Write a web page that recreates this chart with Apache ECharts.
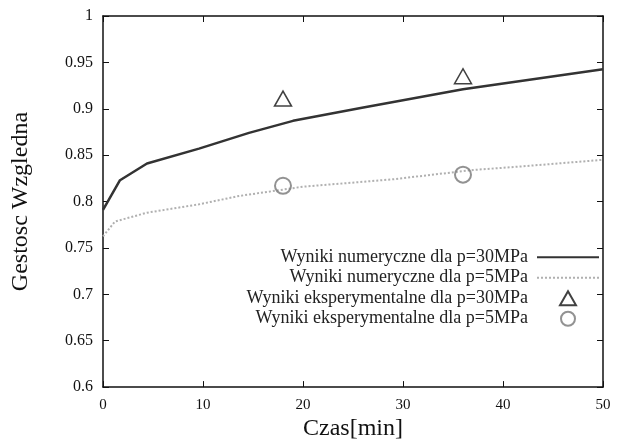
<!DOCTYPE html>
<html>
<head>
<meta charset="utf-8">
<script src="https://cdn.jsdelivr.net/npm/echarts@6/dist/echarts.min.js"></script>
<style>html,body{margin:0;padding:0;background:#fff}#c{width:626px;height:446px}</style>
</head>
<body>
<div id="c"></div>
<script>
// Numerical results, p = 30 MPa
const time30 = [0, 1.7, 4.4, 9.6, 14.6, 19, 25.9, 36, 50];
const dens30 = [0.791, 0.823, 0.841, 0.857, 0.874, 0.887, 0.901, 0.921, 0.9425];
// Numerical results, p = 5 MPa
const time5 = [0, 1.2, 4.4, 9.6, 13.6, 20, 29, 37, 42, 50];
const dens5 = [0.7625, 0.7785, 0.788, 0.797, 0.806, 0.816, 0.824, 0.834, 0.838, 0.845];
// Experimental results
const timeExp = [18, 36];
const exp30 = [0.911, 0.935];
const exp5 = [0.817, 0.829];
// Axis ticks
const xTicks = [0, 10, 20, 30, 40, 50];
const yTicks = [0.6, 0.65, 0.7, 0.75, 0.8, 0.85, 0.9, 0.95, 1];

const names = [
  'Wyniki numeryczne dla p=30MPa',
  'Wyniki numeryczne dla p=5MPa',
  'Wyniki eksperymentalne dla p=30MPa',
  'Wyniki eksperymentalne dla p=5MPa'
];
const pair = (xs, ys) => xs.map((x, i) => [x, ys[i]]);
const FF = 'Liberation Serif';

const axisCommon = {
  type: 'value',
  axisLine: { show: true, onZero: false, lineStyle: { color: '#111', width: 1.5 } },
  axisTick: { show: true, inside: true, length: 6, lineStyle: { color: '#111', width: 1 } },
  splitLine: { show: false }
};

// legend icon for the triangle, padded to the legend item box so it is not stretched
const triIcon = 'path://M0,0M62,14M31,0L39,14L23,14Z';

const chart = echarts.init(document.getElementById('c'));
chart.setOption({
  animation: false,
  backgroundColor: '#fff',
  grid: { left: 103, right: 23, top: 16, bottom: 57 },
  xAxis: [
    Object.assign({}, axisCommon, {
      min: xTicks[0], max: xTicks[xTicks.length - 1], interval: 10,
      name: 'Czas[min]', nameLocation: 'middle', nameGap: 28,
      nameTextStyle: { fontFamily: FF, fontSize: 24, color: '#111' },
      axisLabel: { fontFamily: FF, fontSize: 15, color: '#111', margin: 10 }
    }),
    Object.assign({}, axisCommon, {
      position: 'top', min: xTicks[0], max: xTicks[xTicks.length - 1], interval: 10,
      axisLabel: { show: false }
    })
  ],
  yAxis: [
    Object.assign({}, axisCommon, {
      min: yTicks[0], max: yTicks[yTicks.length - 1], interval: 0.05,
      name: 'Gestosc Wzgledna', nameLocation: 'middle', nameGap: 70,
      nameTextStyle: { fontFamily: FF, fontSize: 24, color: '#111' },
      axisLabel: { fontFamily: FF, fontSize: 16, color: '#111', margin: 10,
        formatter: v => String(+v.toFixed(2)) }
    }),
    Object.assign({}, axisCommon, {
      position: 'right', min: yTicks[0], max: yTicks[yTicks.length - 1], interval: 0.05,
      axisLabel: { show: false }
    })
  ],
  legend: {
    orient: 'vertical', align: 'right', right: 26, top: 247, padding: 0,
    itemWidth: 62, itemHeight: 14, itemGap: 0,
    textStyle: { fontFamily: FF, fontSize: 18, color: '#222', lineHeight: 20.5, padding: [0, 4, 0, 0] },
    data: [
      { name: names[0], itemStyle: { opacity: 0 } },
      { name: names[1], itemStyle: { opacity: 0 } },
      { name: names[2], icon: triIcon },
      { name: names[3] }
    ]
  },
  series: [
    { name: names[0], type: 'line', data: pair(time30, dens30), showSymbol: false, symbol: 'none',
      lineStyle: { color: '#333', width: 2.5 }, itemStyle: { color: '#333' }, z: 3 },
    { name: names[1], type: 'line', data: pair(time5, dens5), showSymbol: false, symbol: 'none',
      lineStyle: { color: '#b0b0b0', width: 2, type: 'dotted' }, itemStyle: { color: '#b0b0b0' }, z: 2 },
    { name: names[2], type: 'scatter', data: pair(timeExp, exp30), symbol: 'triangle', symbolSize: [17, 15],
      itemStyle: { color: '#fff', borderColor: '#111', borderWidth: 1.5 }, z: 4 },
    { name: names[3], type: 'scatter', data: pair(timeExp, exp5), symbol: 'circle', symbolSize: 16,
      itemStyle: { color: 'rgba(255,255,255,0)', borderColor: '#777', borderWidth: 2 }, z: 4 }
  ]
});
</script>
</body>
</html>
